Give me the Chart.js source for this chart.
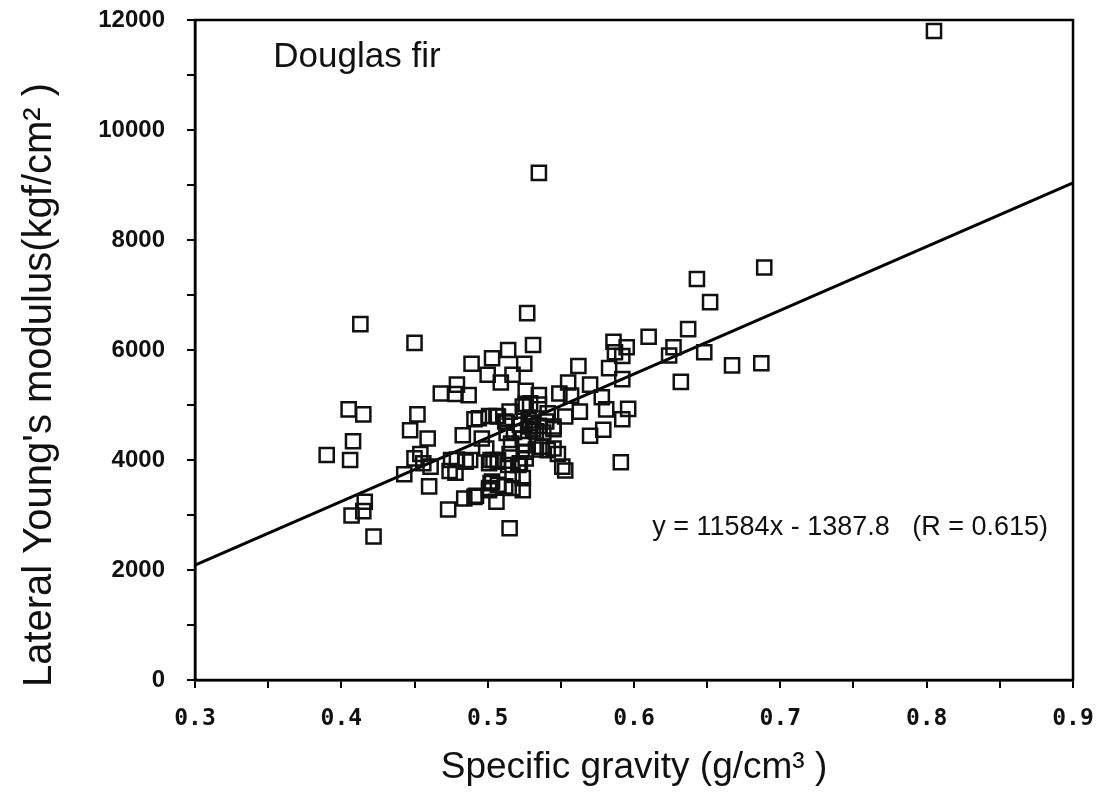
<!DOCTYPE html>
<html>
<head>
<meta charset="utf-8">
<script src="https://cdn.jsdelivr.net/npm/chart.js@4.4.1/dist/chart.umd.min.js"></script>
<style>
    html, body { margin: 0; background: #fff; }
    #wrap { width: 1101px; height: 793px; }
</style>
</head>
<body>
<div id="wrap"><canvas id="gravityChart"></canvas></div>
<script>
// Specific gravity (x) and lateral Young's modulus (y)
const specificGravity = [
    0.805, 0.535, 0.413, 0.450, 0.527, 0.531, 0.514, 0.503, 0.489, 0.525,
    0.500, 0.517, 0.509, 0.468, 0.479, 0.478, 0.487, 0.405, 0.415, 0.452,
    0.491, 0.501, 0.447, 0.459, 0.408, 0.483, 0.496, 0.390, 0.406, 0.454,
    0.450, 0.456, 0.461, 0.443, 0.460, 0.475, 0.479, 0.485, 0.474, 0.478,
    0.499, 0.502, 0.502, 0.506, 0.484, 0.492, 0.473, 0.416, 0.415, 0.407,
    0.422, 0.562, 0.586, 0.595, 0.587, 0.592, 0.610, 0.627, 0.624, 0.583,
    0.592, 0.632, 0.555, 0.570, 0.526, 0.535, 0.549, 0.557, 0.578, 0.535,
    0.526, 0.581, 0.596, 0.592, 0.563, 0.553, 0.545, 0.494, 0.506, 0.515,
    0.524, 0.541, 0.513, 0.518, 0.529, 0.533, 0.538, 0.524, 0.570, 0.579,
    0.516, 0.526, 0.533, 0.541, 0.548, 0.515, 0.507, 0.521, 0.553, 0.591,
    0.524, 0.517, 0.524, 0.501, 0.515, 0.689, 0.643, 0.652, 0.637, 0.648,
    0.667, 0.687, 0.529, 0.507, 0.512, 0.522, 0.529, 0.545, 0.513, 0.525,
    0.537, 0.545, 0.504, 0.507, 0.522, 0.526, 0.488, 0.551, 0.501, 0.514,
    0.517, 0.503, 0.507, 0.512, 0.501, 0.491, 0.531, 0.535, 0.528, 0.540
];
const youngsModulus = [
    11800, 9220, 6470, 6130, 6670, 6090, 6000, 5850, 5750, 5750,
    5550, 5550, 5410, 5210, 5370, 5200, 5180, 4920, 4830, 4830,
    4740, 4800, 4540, 4390, 4340, 4450, 4390, 4090, 4000, 4110,
    4030, 3940, 3880, 3740, 3520, 4000, 4010, 3970, 3800, 3770,
    4210, 4000, 3580, 3240, 3300, 3350, 3100, 3240, 3070, 2990,
    2610, 5710, 6150, 6050, 5960, 5890, 6240, 6050, 5900, 5670,
    5470, 5420, 5410, 5370, 5260, 5180, 5210, 5170, 5140, 5010,
    5020, 4920, 4930, 4740, 4880, 4790, 4560, 4760, 4800, 4880,
    4970, 4850, 4680, 4510, 4610, 4520, 4500, 4390, 4440, 4550,
    4300, 4150, 4190, 4180, 4110, 4110, 4000, 3910, 3810, 3960,
    3670, 3490, 3450, 3490, 2760, 7500, 7290, 6870, 6380, 5960,
    5720, 5760, 5030, 4790, 4700, 4640, 4670, 4610, 4490, 4270,
    4240, 4210, 4000, 3970, 3940, 4030, 4000, 3880, 3940, 3910,
    3730, 3610, 3550, 3520, 3450, 3330, 4560, 4620, 4720, 4700
];

// least-squares line printed on the figure
const fitSlope = 11584;
const fitIntercept = -1387.8;
const fitR = 0.615;
const xRange = [0.3, 0.9];
const yRange = [0, 12000];

const points = specificGravity.map((x, i) => ({ x: x, y: youngsModulus[i] }));
const fitLine = xRange.map(x => ({ x: x, y: fitSlope * x + fitIntercept }));

const FONT = "'Liberation Sans', Arial, sans-serif";

// frame box, y title and text labels inside the plot
const decorPlugin = {
    id: 'decor',
    afterDraw(chart) {
        const { ctx, chartArea: a, scales } = chart;
        ctx.save();
        ctx.strokeStyle = '#000';
        ctx.lineWidth = 2.5;
        ctx.strokeRect(a.left, a.top, a.right - a.left, a.bottom - a.top);

        ctx.fillStyle = '#111';
        ctx.textBaseline = 'alphabetic';
        ctx.font = '35px ' + FONT;
        ctx.fillText('Douglas fir', scales.x.getPixelForValue(0.3535), scales.y.getPixelForValue(11150));

        ctx.font = '27px ' + FONT;
        const eq = 'y = ' + fitSlope + 'x - ' + Math.abs(fitIntercept) + '   (R = ' + fitR + ')';
        ctx.fillText(eq, scales.x.getPixelForValue(0.6125), scales.y.getPixelForValue(2640));

        // y axis title sits a bit lower than the axis centre in the original
        ctx.translate(40, 385);
        ctx.rotate(-Math.PI / 2);
        ctx.textAlign = 'center';
        ctx.textBaseline = 'middle';
        ctx.font = '40px ' + FONT;
        ctx.fillText('Lateral Young\'s modulus(kgf/cm\u00b2 )', 0, 0);
        ctx.restore();
    }
};

new Chart(document.getElementById('gravityChart'), {
    type: 'scatter',
    data: {
        datasets: [{
            label: 'Douglas fir',
            data: points,
            pointStyle: 'rect',
            pointRadius: 10,
            pointHoverRadius: 10,
            borderColor: '#111',
            borderWidth: 2.5,
            backgroundColor: 'rgba(0,0,0,0)'
        }, {
            type: 'line',
            label: 'fit',
            data: fitLine,
            borderColor: '#000',
            borderWidth: 3,
            pointRadius: 0,
            fill: false
        }]
    },
    options: {
        responsive: true,
        maintainAspectRatio: false,
        animation: false,
        devicePixelRatio: 1,
        layout: { padding: { top: 20, right: 28, left: 0, bottom: 0 } },
        plugins: { legend: { display: false }, tooltip: { enabled: false } },
        scales: {
            x: {
                type: 'linear',
                min: xRange[0],
                max: xRange[1],
                afterFit: s => {
                    s.height = 113;
                    s.paddingLeft = 0;
                    s.paddingRight = 0;
                },
                ticks: {
                    stepSize: 0.05,
                    autoSkip: false,
                    maxRotation: 0,
                    padding: 17,
                    color: '#111',
                    font: { family: "'DejaVu Sans Mono', monospace", size: 23, weight: 'bold' },
                    callback: v => (Math.round(v * 100) % 10 === 0 ? v.toFixed(1) : '')
                },
                grid: { drawOnChartArea: false, drawTicks: true, tickLength: 8, color: '#000', lineWidth: 2 },
                border: { display: true, color: '#000', width: 2.5 },
                title: {
                    display: true,
                    text: 'Specific gravity (g/cm\u00b3 )',
                    color: '#111',
                    font: { family: FONT, size: 37 },
                    padding: { top: 0, bottom: 3 }
                }
            },
            y: {
                min: yRange[0],
                max: yRange[1],
                afterFit: s => {
                    s.width = 195;
                    s.paddingTop = 0;
                    s.paddingBottom = 0;
                },
                ticks: {
                    stepSize: 1000,
                    autoSkip: false,
                    padding: 22,
                    color: '#111',
                    font: { family: FONT, size: 24, weight: 'bold' },
                    callback: v => (v % 2000 === 0 ? String(v) : '')
                },
                grid: { drawOnChartArea: false, drawTicks: true, tickLength: 8, color: '#000', lineWidth: 2 },
                border: { display: true, color: '#000', width: 2.5 }
            }
        }
    },
    plugins: [decorPlugin]
});
</script>
</body>
</html>
